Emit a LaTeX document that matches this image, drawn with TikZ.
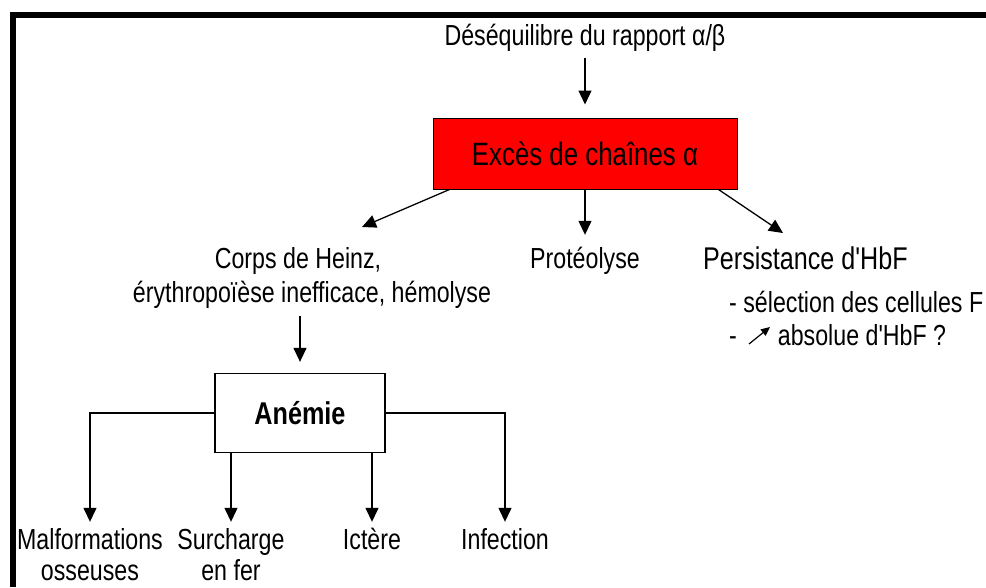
\documentclass[tikz,border=0pt]{standalone}
\usepackage{fontspec}
\setmainfont{Liberation Sans}[FakeStretch=0.8]
% plain family: straight apostrophes, no TeX ligature mapping
\newfontfamily\narrowsans{Liberation Sans}[FakeStretch=0.8]
\usetikzlibrary{arrows.meta,calc}
\definecolor{boxred}{HTML}{FF0000}
\tikzset{
  txt/.style={inner sep=0pt, anchor=base, text height=21pt, text depth=6pt,
              font=\narrowsans\fontsize{29}{33}\selectfont},
  bigtxt/.style={txt, font=\narrowsans\fontsize{31.4}{33}\selectfont},
  arr/.style={line width=1.3pt, -{Triangle[width=13pt,length=14pt]}},
  smallarr/.style={line width=1.2pt, -{Triangle[width=8pt,length=9pt]}},
  redbox/.style={draw=black, fill=boxred, line width=1pt, inner sep=0pt,
                 minimum width=304pt, minimum height=71pt,
                 font=\narrowsans\fontsize{32.3}{33}\selectfont},
  whitebox/.style={draw=black, line width=1.3pt, inner sep=0pt,
                 minimum width=170pt, minimum height=79pt,
                 font=\narrowsans\fontsize{31.5}{33}\selectfont\bfseries},
}
\begin{document}
\begin{tikzpicture}[x=1pt,y=-1pt]
\useasboundingbox (0,0) rectangle (986,587);
% heavy frame along the top and left
\fill[black] (10,12) rectangle (986,18);
\fill[black] (10,12) rectangle (16,587);

% cause and central box
\node[txt] (cause) at (585,45) {Déséquilibre du rapport α/β};
\node[redbox] (exces) at (585,153.5) {Excès de chaînes α};
\draw[arr, shorten <=7pt, shorten >=13pt] (cause.south) -- (exces.north);

% three consequences
\node[txt] (heinzA) at (298,268) {Corps de Heinz,};
\node[txt] (heinzB) at (312,302) {érythropoïèse inefficace, hémolyse};
\node[txt] (prot) at (585,268) {Protéolyse};
\node[bigtxt, anchor=base west] (hbf) at (703,269) {Persistance d'HbF};
\node[txt, anchor=base west] (hbfA) at (729,312) {- sélection des cellules F};
\node[txt, anchor=base west] (hbfB) at (729,345) {-\hspace{41pt}absolue d'HbF ?};
\coordinate (riseA) at ($(hbfB.base west)+(20,-1)$);
\coordinate (riseB) at ($(hbfB.base west)+(41,-18)$);
\draw[smallarr] (riseA) -- (riseB);

\coordinate (tipL) at (362,227);
\coordinate (tipR) at (783,233);
\draw[arr] ($(exces.south west)+(17,0)$) -- (tipL);
\draw[arr, shorten >=12pt] (exces.south) -- (prot.north);
\draw[arr] ($(exces.south east)+(-19,0)$) -- (tipR);

% anaemia and its complications
\node[whitebox] (anemie) at (300,413) {Anémie};
\draw[arr, shorten <=8pt, shorten >=11pt] (heinzB.south -| anemie.north) -- (anemie.north);

\node[txt] (malf) at (90,549) {Malformations};
\node[txt] (malfB) at (90,580) {osseuses};
\node[txt] (surch) at (231,549) {Surcharge};
\node[txt] (surchB) at (231,580) {en fer};
\node[txt] (ict) at (372,549) {Ictère};
\node[txt] (inf) at (505,549) {Infection};

\draw[arr, shorten >=6pt] (anemie.west) -| (malf.north);
\draw[arr, shorten >=6pt] (surch.north |- anemie.south) -- (surch.north);
\draw[arr, shorten >=6pt] (ict.north |- anemie.south) -- (ict.north);
\draw[arr, shorten >=6pt] (anemie.east) -| (inf.north);
\end{tikzpicture}
\end{document}
